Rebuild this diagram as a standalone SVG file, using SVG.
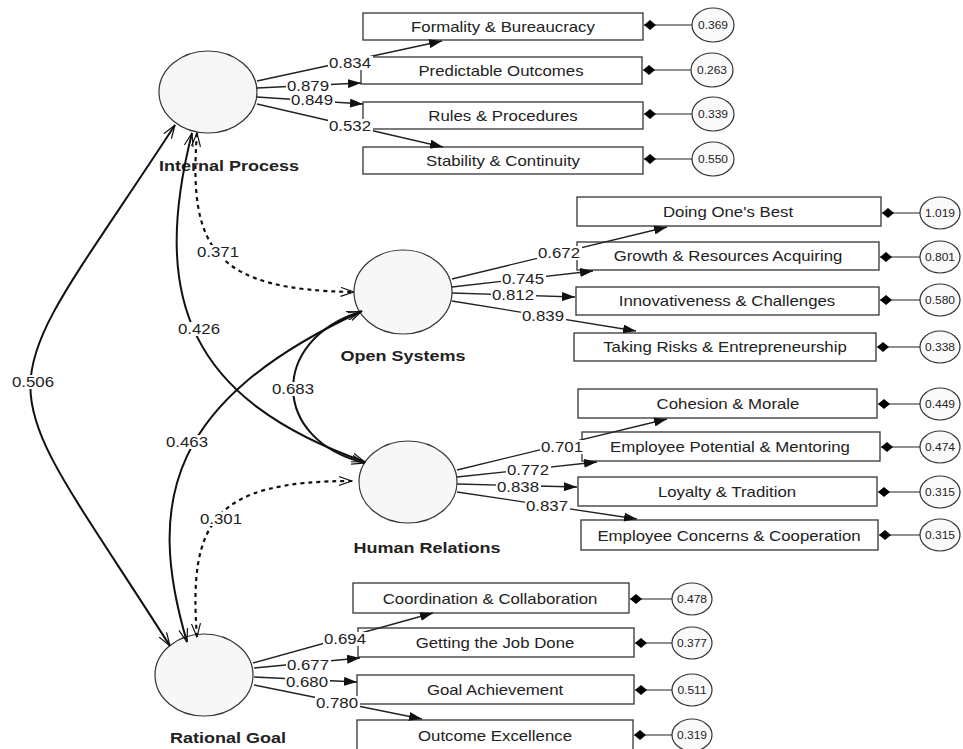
<svg xmlns="http://www.w3.org/2000/svg" width="963" height="749" viewBox="0 0 963 749">
<style>
.bg{fill:#fff}
.lat{fill:#f7f7f7;stroke:#333;stroke-width:1.2}
.box{fill:#fff;stroke:#333;stroke-width:1.3}
.res{fill:#fafafa;stroke:#333;stroke-width:1.2}
.ld{fill:none;stroke:#222;stroke-width:1.3;marker-end:url(#fa)}
.rl{fill:none;stroke:#222;stroke-width:1.2;marker-end:url(#dm)}
.cv{fill:none;stroke:#111;stroke-width:2;marker-start:url(#ov);marker-end:url(#ov)}
.cd{fill:none;stroke:#111;stroke-width:2.2;stroke-dasharray:4 4;marker-start:url(#ov);marker-end:url(#ov)}
text{font-family:"Liberation Sans",Arial,sans-serif;fill:#222;text-anchor:middle}
.t{font-size:14px}
.lt{font-size:15px;font-weight:bold}
.rt{font-size:10px}
.lb{fill:#fff}
</style>
<defs>
<marker id="fa" viewBox="0 0 13 9" refX="13" refY="4.5" markerWidth="13" markerHeight="9" markerUnits="userSpaceOnUse" orient="auto"><path d="M0,0 L13,4.5 L0,9 z" fill="#111"/></marker>
<marker id="ov" viewBox="0 0 14 10" refX="13.5" refY="5" markerWidth="14" markerHeight="10" markerUnits="userSpaceOnUse" orient="auto-start-reverse"><path d="M0,0.5 L13.5,5 L0,9.5" fill="none" stroke="#111" stroke-width="1.2"/></marker>
<marker id="dm" viewBox="0 0 12 10" refX="12" refY="5" markerWidth="12" markerHeight="10" markerUnits="userSpaceOnUse" orient="auto"><path d="M0,5 L6,0 L12,5 L6,10 z" fill="#000"/></marker>
</defs>
<rect class="bg" x="0" y="0" width="963" height="749"/>

<!-- Latent variables -->
<g id="internal-process"><ellipse class="lat" cx="208" cy="92" rx="49" ry="41"/><text class="lt" transform="translate(229 170.5) scale(1.2 1)">Internal Process</text></g>
<g id="open-systems"><ellipse class="lat" cx="403" cy="292" rx="49" ry="42"/><text class="lt" transform="translate(403 360.5) scale(1.2 1)">Open Systems</text></g>
<g id="human-relations"><ellipse class="lat" cx="408" cy="482" rx="49" ry="41"/><text class="lt" transform="translate(427 552.5) scale(1.2 1)">Human Relations</text></g>
<g id="rational-goal"><ellipse class="lat" cx="204" cy="675" rx="49" ry="41"/><text class="lt" transform="translate(228 742.5) scale(1.2 1)">Rational Goal</text></g>

<!-- Indicators: Internal Process -->
<g id="formality"><rect class="box" x="363" y="13" width="280" height="27"/><text class="t" transform="translate(503 31.5) scale(1.2 1)">Formality &amp; Bureaucracy</text></g>
<g id="predictable"><rect class="box" x="361" y="57" width="281" height="27"/><text class="t" transform="translate(501 75.5) scale(1.2 1)">Predictable Outcomes</text></g>
<g id="rules"><rect class="box" x="363" y="102" width="280" height="27"/><text class="t" transform="translate(503 120.5) scale(1.2 1)">Rules &amp; Procedures</text></g>
<g id="stability"><rect class="box" x="363" y="147" width="280" height="27"/><text class="t" transform="translate(503 165.5) scale(1.2 1)">Stability &amp; Continuity</text></g>

<!-- Indicators: Open Systems -->
<g id="doing-best"><rect class="box" x="577" y="197" width="304" height="29"/><text class="t" transform="translate(728 216.5) scale(1.2 1)">Doing One's Best</text></g>
<g id="growth"><rect class="box" x="577" y="242" width="302" height="28"/><text class="t" transform="translate(728 260.5) scale(1.2 1)">Growth &amp; Resources Acquiring</text></g>
<g id="innovativeness"><rect class="box" x="576" y="287" width="303" height="28"/><text class="t" transform="translate(727 305.5) scale(1.2 1)">Innovativeness &amp; Challenges</text></g>
<g id="taking-risks"><rect class="box" x="574" y="333" width="302" height="28"/><text class="t" transform="translate(725 351.5) scale(1.2 1)">Taking Risks &amp; Entrepreneurship</text></g>

<!-- Indicators: Human Relations -->
<g id="cohesion"><rect class="box" x="578" y="389" width="299" height="29"/><text class="t" transform="translate(728 408.5) scale(1.2 1)">Cohesion &amp; Morale</text></g>
<g id="employee-potential"><rect class="box" x="582" y="432" width="298" height="29"/><text class="t" transform="translate(730 451.5) scale(1.2 1)">Employee Potential &amp; Mentoring</text></g>
<g id="loyalty"><rect class="box" x="578" y="477" width="299" height="29"/><text class="t" transform="translate(727 496.5) scale(1.2 1)">Loyalty &amp; Tradition</text></g>
<g id="employee-concerns"><rect class="box" x="581" y="520" width="297" height="30"/><text class="t" transform="translate(729 540.5) scale(1.2 1)">Employee Concerns &amp; Cooperation</text></g>

<!-- Indicators: Rational Goal -->
<g id="coordination"><rect class="box" x="353" y="583" width="276" height="30"/><text class="t" transform="translate(490 603.5) scale(1.2 1)">Coordination &amp; Collaboration</text></g>
<g id="getting-job-done"><rect class="box" x="358" y="628" width="276" height="29"/><text class="t" transform="translate(495 647.5) scale(1.2 1)">Getting the Job Done</text></g>
<g id="goal-achievement"><rect class="box" x="357" y="675" width="277" height="29"/><text class="t" transform="translate(495 694.5) scale(1.2 1)">Goal Achievement</text></g>
<g id="outcome-excellence"><rect class="box" x="357" y="720" width="276" height="34"/><text class="t" transform="translate(495 740.5) scale(1.2 1)">Outcome Excellence</text></g>

<!-- Residuals -->
<g id="e1"><ellipse class="res" cx="713" cy="25" rx="21" ry="17"/><text class="rt" transform="translate(713 28.5) scale(1.2 1)">0.369</text></g>
<g id="e2"><ellipse class="res" cx="712" cy="70" rx="21" ry="17"/><text class="rt" transform="translate(712 73.5) scale(1.2 1)">0.263</text></g>
<g id="e3"><ellipse class="res" cx="713" cy="114" rx="21" ry="17"/><text class="rt" transform="translate(713 117.5) scale(1.2 1)">0.339</text></g>
<g id="e4"><ellipse class="res" cx="713" cy="159" rx="21" ry="17"/><text class="rt" transform="translate(713 162.5) scale(1.2 1)">0.550</text></g>
<g id="e5"><ellipse class="res" cx="940" cy="213" rx="20" ry="16"/><text class="rt" transform="translate(940 216.5) scale(1.2 1)">1.019</text></g>
<g id="e6"><ellipse class="res" cx="940" cy="257" rx="20" ry="16"/><text class="rt" transform="translate(940 260.5) scale(1.2 1)">0.801</text></g>
<g id="e7"><ellipse class="res" cx="940" cy="300" rx="20" ry="16"/><text class="rt" transform="translate(940 303.5) scale(1.2 1)">0.580</text></g>
<g id="e8"><ellipse class="res" cx="940" cy="347" rx="20" ry="16"/><text class="rt" transform="translate(940 350.5) scale(1.2 1)">0.338</text></g>
<g id="e9"><ellipse class="res" cx="940" cy="404" rx="20" ry="16"/><text class="rt" transform="translate(940 407.5) scale(1.2 1)">0.449</text></g>
<g id="e10"><ellipse class="res" cx="940" cy="447" rx="20" ry="16"/><text class="rt" transform="translate(940 450.5) scale(1.2 1)">0.474</text></g>
<g id="e11"><ellipse class="res" cx="940" cy="492" rx="20" ry="16"/><text class="rt" transform="translate(940 495.5) scale(1.2 1)">0.315</text></g>
<g id="e12"><ellipse class="res" cx="940" cy="535" rx="20" ry="16"/><text class="rt" transform="translate(940 538.5) scale(1.2 1)">0.315</text></g>
<g id="e13"><ellipse class="res" cx="692" cy="599" rx="20" ry="16"/><text class="rt" transform="translate(692 602.5) scale(1.2 1)">0.478</text></g>
<g id="e14"><ellipse class="res" cx="692" cy="643" rx="20" ry="16"/><text class="rt" transform="translate(692 646.5) scale(1.2 1)">0.377</text></g>
<g id="e15"><ellipse class="res" cx="692" cy="690" rx="20" ry="16"/><text class="rt" transform="translate(692 693.5) scale(1.2 1)">0.511</text></g>
<g id="e16"><ellipse class="res" cx="692" cy="735" rx="20" ry="16"/><text class="rt" transform="translate(692 738.5) scale(1.2 1)">0.319</text></g>

<g id="connectors">
<!-- residual links -->
<path class="rl" d="M692,25 L644,25"/>
<path class="rl" d="M691,70 L643,70"/>
<path class="rl" d="M692,114 L644,114"/>
<path class="rl" d="M692,159 L644,159"/>
<path class="rl" d="M920,213 L882,213"/>
<path class="rl" d="M920,257 L880,257"/>
<path class="rl" d="M920,300 L880,300"/>
<path class="rl" d="M920,347 L877,347"/>
<path class="rl" d="M920,404 L878,404"/>
<path class="rl" d="M920,447 L881,447"/>
<path class="rl" d="M920,492 L878,492"/>
<path class="rl" d="M920,535 L879,535"/>
<path class="rl" d="M672,599 L630,599"/>
<path class="rl" d="M672,643 L635,643"/>
<path class="rl" d="M672,690 L635,690"/>
<path class="rl" d="M672,735 L634,735"/>

<!-- loadings -->
<path class="ld" d="M257,81 L442,41"/>
<path class="ld" d="M257,88 L361,83"/>
<path class="ld" d="M257,97 L363,104"/>
<path class="ld" d="M257,104 L443,147"/>
<path class="ld" d="M452,279 L667,227"/>
<path class="ld" d="M452,287 L593,271"/>
<path class="ld" d="M452,293 L575,297"/>
<path class="ld" d="M452,301 L636,331"/>
<path class="ld" d="M457,470 L667,419"/>
<path class="ld" d="M457,477 L597,462"/>
<path class="ld" d="M457,484 L577,487"/>
<path class="ld" d="M457,492 L637,519"/>
<path class="ld" d="M253,663 L433,613"/>
<path class="ld" d="M254,668 L360,658"/>
<path class="ld" d="M254,677 L357,682"/>
<path class="ld" d="M254,685 L422,719"/>

<!-- covariances -->
<path class="cv" d="M175,125 C-17,419 -17,352 170,646"/>
<path class="cv" d="M192,133 C150,300 190,400 365,462"/>
<path class="cd" d="M197,133 C188,250 215,290 354,292"/>
<path class="cv" d="M187,642 C145,500 170,400 362,311"/>
<path class="cv" d="M360,312 C270,340 270,440 365,463"/>
<path class="cd" d="M197,637 C188,520 215,481 352,481"/>

<!-- labels -->
<g id="labels">
<rect class="lb" x="328" y="56" width="45" height="14"/><text class="t" transform="translate(350 68) scale(1.2 1)">0.834</text>
<rect class="lb" x="286" y="79" width="45" height="14"/><text class="t" transform="translate(308 91) scale(1.2 1)">0.879</text>
<rect class="lb" x="290" y="93" width="45" height="14"/><text class="t" transform="translate(312 105) scale(1.2 1)">0.849</text>
<rect class="lb" x="328" y="119" width="45" height="14"/><text class="t" transform="translate(350 131) scale(1.2 1)">0.532</text>
<rect class="lb" x="537" y="246" width="45" height="14"/><text class="t" transform="translate(559 258) scale(1.2 1)">0.672</text>
<rect class="lb" x="501" y="272" width="45" height="14"/><text class="t" transform="translate(523 284) scale(1.2 1)">0.745</text>
<rect class="lb" x="491" y="288" width="45" height="14"/><text class="t" transform="translate(513 300) scale(1.2 1)">0.812</text>
<rect class="lb" x="521" y="309" width="45" height="14"/><text class="t" transform="translate(543 321) scale(1.2 1)">0.839</text>
<rect class="lb" x="540" y="440" width="45" height="14"/><text class="t" transform="translate(562 452) scale(1.2 1)">0.701</text>
<rect class="lb" x="506" y="463" width="45" height="14"/><text class="t" transform="translate(528 475) scale(1.2 1)">0.772</text>
<rect class="lb" x="496" y="480" width="45" height="14"/><text class="t" transform="translate(518 492) scale(1.2 1)">0.838</text>
<rect class="lb" x="525" y="499" width="45" height="14"/><text class="t" transform="translate(547 511) scale(1.2 1)">0.837</text>
<rect class="lb" x="323" y="632" width="45" height="14"/><text class="t" transform="translate(345 644) scale(1.2 1)">0.694</text>
<rect class="lb" x="286" y="658" width="45" height="14"/><text class="t" transform="translate(308 670) scale(1.2 1)">0.677</text>
<rect class="lb" x="285" y="675" width="45" height="14"/><text class="t" transform="translate(307 687) scale(1.2 1)">0.680</text>
<rect class="lb" x="315" y="696" width="45" height="14"/><text class="t" transform="translate(337 708) scale(1.2 1)">0.780</text>
<rect class="lb" x="11" y="375" width="45" height="14"/><text class="t" transform="translate(33 387) scale(1.2 1)">0.506</text>
<rect class="lb" x="177" y="322" width="45" height="14"/><text class="t" transform="translate(199 334) scale(1.2 1)">0.426</text>
<rect class="lb" x="196" y="245" width="45" height="14"/><text class="t" transform="translate(218 257) scale(1.2 1)">0.371</text>
<rect class="lb" x="165" y="435" width="45" height="14"/><text class="t" transform="translate(187 447) scale(1.2 1)">0.463</text>
<rect class="lb" x="271" y="382" width="45" height="14"/><text class="t" transform="translate(293 394) scale(1.2 1)">0.683</text>
<rect class="lb" x="199" y="512" width="45" height="14"/><text class="t" transform="translate(221 524) scale(1.2 1)">0.301</text>
</g>
</g>
</svg>
